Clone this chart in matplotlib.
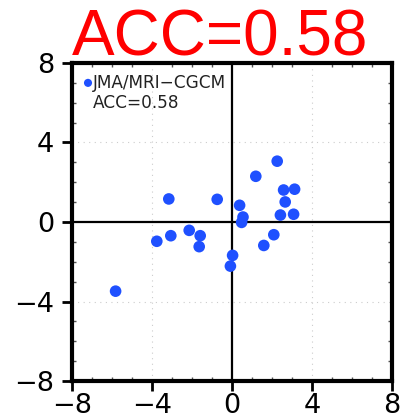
import matplotlib
matplotlib.use("Agg")
import matplotlib.pyplot as plt
from matplotlib.ticker import MultipleLocator

# Observed vs. hindcast anomalies
obs = [2.26, 1.19, 2.58, 3.13, 2.66, -3.16, -0.74, 0.38, 0.55, 0.48, 2.42,
       3.08, -2.14, -1.59, -3.06, -3.76, -1.64, 2.09, 1.59, 0.03, -0.08, -5.82]
model = [3.06, 2.30, 1.61, 1.65, 1.01, 1.16, 1.14, 0.84, 0.25, -0.02, 0.35,
         0.39, -0.42, -0.69, -0.69, -0.97, -1.24, -0.64, -1.18, -1.68, -2.22, -3.48]
model_name = "JMA/MRI\u2212CGCM"
acc = 0.58
ticks = [-8, -4, 0, 4, 8]
tick_labels = ["\u22128", "\u22124", "0", "4", "8"]

plt.rcParams["font.family"] = ["DejaVu Sans"]

fig = plt.figure(figsize=(4.04, 4.19), dpi=100)
ax = fig.add_axes([72 / 404, 1 - 381 / 419, 320 / 404, 318 / 419])

ax.set_xlim(-8, 8)
ax.set_ylim(-8, 8)

# dotted reference grid at +/-4
for v in (-4, 4):
    ax.axvline(v, color="#cccccc", lw=0.8, ls=(0, (1, 4)), zorder=0)
    ax.axhline(v, color="#cccccc", lw=0.8, ls=(0, (1, 4)), zorder=0)
ax.axvline(0, color="black", lw=1.6, zorder=1)
ax.axhline(0, color="black", lw=1.6, zorder=1)

ax.scatter(obs, model, s=70, color="#1f50ff", edgecolors="none", zorder=3)

for sp in ax.spines.values():
    sp.set_linewidth(3)

ax.set_xticks(ticks)
ax.set_yticks(ticks)
ax.set_xticklabels(tick_labels)
ax.set_yticklabels(tick_labels)
ax.xaxis.set_minor_locator(MultipleLocator(1))
ax.yaxis.set_minor_locator(MultipleLocator(1))
ax.tick_params(which="major", direction="out", length=7, width=2,
               labelsize=19.5, top=False, right=False)
ax.tick_params(axis="x", which="major", pad=1.5)
ax.tick_params(axis="y", which="major", pad=6)
ax.tick_params(which="minor", direction="in", length=3, width=1,
               top=True, right=True, color="#555555")

# legend-style annotation in the upper-left corner
ax.scatter([-7.2], [7.0], s=34, color="#1f50ff", edgecolors="none",
           zorder=3, clip_on=False)
ax.text(-6.95, 7.0, model_name, fontsize=12.2, color="#222222",
        va="center", ha="left")
ax.text(-6.95, 6.0, f"ACC={acc:.2f}", fontsize=12.2, color="#222222",
        va="center", ha="left")

fig.text(0.545, 1 - 55 / 419, f"ACC={acc:.2f}", color="#ff0000",
         fontsize=46, ha="center", va="baseline",
         family=["Liberation Sans", "DejaVu Sans"])

fig.savefig("out.png", dpi=100)
